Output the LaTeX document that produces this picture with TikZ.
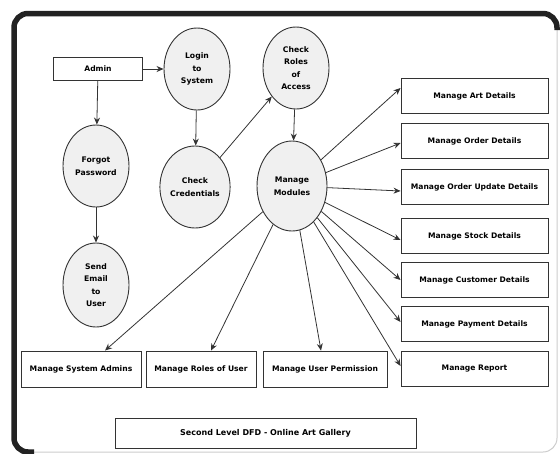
\documentclass[tikz,border=0pt]{standalone}
\usepackage{fontspec}
\setmainfont{DejaVu Sans}
\usetikzlibrary{shapes.geometric,arrows.meta,calc}
\definecolor{ln}{HTML}{333333}
\definecolor{efill}{HTML}{F0F0F0}
\definecolor{frm}{HTML}{222222}
\definecolor{frl}{HTML}{CCCCCC}
\begin{document}
\begin{tikzpicture}[x=1pt,y=-1pt,
 proc/.style={ellipse,draw=ln,fill=efill,line width=0.9pt,minimum width=66pt,minimum height=82pt,inner sep=0pt,align=center,font=\fontsize{7.7}{12.5}\selectfont\bfseries},
 ent/.style={rectangle,draw=ln,fill=white,line width=0.9pt,inner sep=0pt,font=\fontsize{7.6}{9}\selectfont\bfseries},
 rbox/.style={ent,minimum width=147pt,minimum height=35pt},
 bbox/.style={ent,minimum height=36pt},
 flow/.style={draw=ln,line width=0.8pt,-{Stealth[length=7pt,width=6pt]}}]
\useasboundingbox (0,0) rectangle (560,453);
% frame
\draw[frl,line width=1pt,rounded corners=14pt] (557,20) -- (557,452) -- (24,452);
\draw[frm,line width=5.5pt,rounded corners=14pt] (34,452) -- (14,452) -- (14,13.5) -- (557,13.5) -- (557,30);
% processes
\node[ent,minimum width=89pt,minimum height=23pt] (admin) at (98,69) {Admin};
\node[proc] (login) at (197,69) {Login\\to\\System};
\node[proc] (forgot) at (96,166) {Forgot\\Password};
\node[proc] (cred) at (195,187) {Check\\Credentials};
\node[proc] (roles) at (296,68) {Check\\Roles\\of\\Access};
\node[proc,minimum width=70pt,minimum height=90pt] (mm) at (292,186) {Manage\\Modules};
\node[proc,minimum height=84pt] (email) at (96,285) {Send\\Email\\to\\User};
% right entities
\node[rbox] (art) at (474.5,96) {Manage Art Details};
\node[rbox] (order) at (474.5,141) {Manage Order Details};
\node[rbox] (update) at (474.5,187) {Manage Order Update Details};
\node[rbox] (stock) at (474.5,236) {Manage Stock Details};
\node[rbox] (cust) at (474.5,280) {Manage Customer Details};
\node[rbox] (pay) at (474.5,324) {Manage Payment Details};
\node[rbox] (report) at (474.5,369) {Manage Report};
% bottom entities
\node[bbox,minimum width=120pt] (sysadm) at (81,369) {Manage System Admins};
\node[bbox,minimum width=110pt] (uroles) at (201,369) {Manage Roles of User};
\node[bbox,minimum width=124pt] (perm) at (325,369) {Manage User Permission};
\node[ent,minimum width=301pt,minimum height=30pt,font=\fontsize{8}{10}\selectfont\bfseries] (title) at (265.5,433) {Second Level DFD - Online Art Gallery};
% flows
\draw[flow] (admin) -- (login);
\draw[flow] (admin) -- (forgot);
\draw[flow] (login) -- (cred);
\draw[flow] (forgot) -- (email);
\draw[flow] (cred) -- (roles);
\draw[flow] (roles) -- (mm);
\draw[flow] (mm) -- ($(art.west)+(0,-8)$);
\draw[flow] (mm) -- ($(order.west)+(0,2)$);
\draw[flow] (mm) -- ($(update.west)+(0,4)$);
\draw[flow] (mm) -- ($(stock.west)+(0,4)$);
\draw[flow] (mm) -- (cust.west);
\draw[flow] (mm) -- ($(pay.west)+(0,-2)$);
\draw[flow] (mm) -- ($(report.west)+(0,-3)$);
\draw[flow] (mm) -- ($(sysadm.north)+(24,0)$);
\draw[flow] (mm) -- ($(uroles.north)+(10,0)$);
\draw[flow] (mm) -- ($(perm.north)+(-4,0)$);
\end{tikzpicture}
\end{document}
